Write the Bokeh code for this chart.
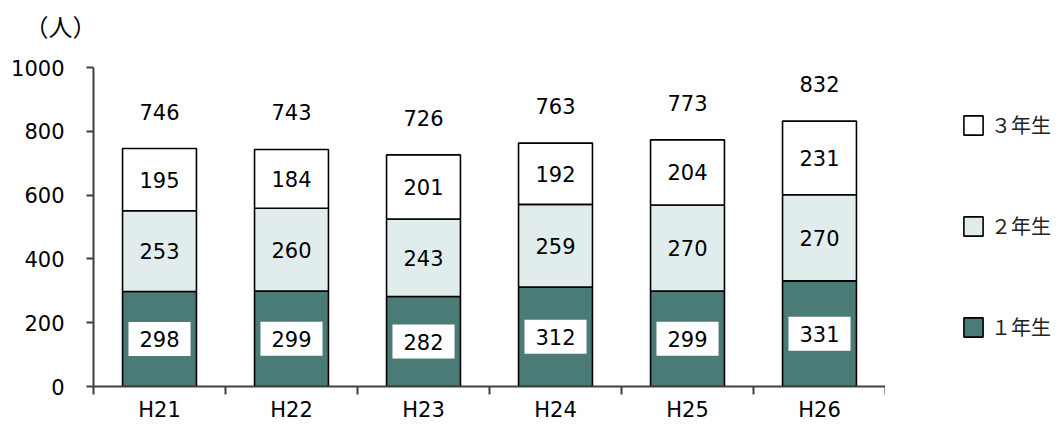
from bokeh.plotting import figure
from bokeh.layouts import row, column
from bokeh.models import (ColumnDataSource, FixedTicker, Range1d, Legend, LegendItem,
                          LabelSet)
from bokeh.core.properties import value
from bokeh.embed import file_html
from bokeh.resources import INLINE

# ---- data ----
years = ["H21", "H22", "H23", "H24", "H25", "H26"]
grade1 = [298, 299, 282, 312, 299, 331]
grade2 = [253, 260, 243, 259, 270, 270]
grade3 = [195, 184, 201, 192, 204, 231]
series_names = ["１年生", "２年生", "３年生"]
y_ticks = [0, 200, 400, 600, 800, 1000]
unit_label = "（人）"

# ---- derived ----
xs = [i + 0.5 for i in range(len(years))]
b1 = [0] * len(years)
t1 = grade1
b2 = t1
t2 = [a + b for a, b in zip(t1, grade2)]
b3 = t2
t3 = [a + b for a, b in zip(t2, grade3)]
totals = t3

src = ColumnDataSource(dict(
    x=xs, b1=b1, t1=t1, b2=b2, t2=t2, b3=b3, t3=t3,
    m1=[(a + b) / 2 for a, b in zip(b1, t1)],
    m2=[(a + b) / 2 for a, b in zip(b2, t2)],
    m3=[(a + b) / 2 for a, b in zip(b3, t3)],
    l1=[str(v) for v in grade1], l2=[str(v) for v in grade2], l3=[str(v) for v in grade3],
    tot=totals, ltot=[str(v) for v in totals],
))

NUM_FONT = "DejaVu Sans"
JP_FONT = "Noto Sans CJK JP"
AXIS_COLOR = "#404040"
colors = ["#4a7b77", "#e1eded", "#ffffff"]
bw = 0.56
HEAD_H = 50


def bare(fig):
    fig.outline_line_color = None
    fig.xgrid.visible = False
    fig.ygrid.visible = False
    return fig


# ---- header with unit label ----
head = figure(width=1059, height=HEAD_H, output_backend="svg", toolbar_location=None,
              x_range=Range1d(0, 1059), y_range=Range1d(0, HEAD_H),
              min_border=0, x_axis_location=None, y_axis_location=None)
bare(head)
head.text(x=[24], y=[HEAD_H - 25], text=[unit_label], text_font=value(JP_FONT),
          text_font_size="24px", text_align="left", text_baseline="middle", text_color="black")

# ---- main chart ----
p = figure(width=885, height=425 - HEAD_H, output_backend="svg", toolbar_location=None,
           x_range=Range1d(0, len(years)), y_range=Range1d(0, 1000),
           min_border_left=93, min_border_right=0, min_border_top=67 - HEAD_H,
           min_border_bottom=39)
bare(p)

r1 = p.vbar(x="x", bottom="b1", top="t1", width=bw, source=src, fill_color=colors[0],
            line_color="black", line_width=1.6)
r2 = p.vbar(x="x", bottom="b2", top="t2", width=bw, source=src, fill_color=colors[1],
            line_color="black", line_width=1.6)
r3 = p.vbar(x="x", bottom="b3", top="t3", width=bw, source=src, fill_color=colors[2],
            line_color="black", line_width=1.6)

p.text(x="x", y="m1", text="l1", source=src, text_font=value(NUM_FONT), text_font_size="21px",
       text_align="center", text_baseline="middle", text_color="black",
       background_fill_color="white", padding=(11, 9))
p.text(x="x", y="m2", text="l2", source=src, text_font=value(NUM_FONT), text_font_size="21px",
       text_align="center", text_baseline="middle", text_color="black")
p.text(x="x", y="m3", text="l3", source=src, text_font=value(NUM_FONT), text_font_size="21px",
       text_align="center", text_baseline="middle", text_color="black")

p.add_layout(LabelSet(x="x", y="tot", text="ltot", source=src, y_offset=37,
                      text_font=value(NUM_FONT), text_font_size="21px",
                      text_align="center", text_baseline="middle", text_color="black"))

xa = p.xaxis[0]
xa.ticker = FixedTicker(ticks=xs, minor_ticks=list(range(len(years) + 1)))
xa.major_label_overrides = {x: y for x, y in zip(xs, years)}
xa.major_tick_line_color = None
xa.major_tick_out = 0
xa.major_tick_in = 0
xa.minor_tick_out = 8
xa.minor_tick_in = 0
xa.minor_tick_line_color = AXIS_COLOR
xa.minor_tick_line_width = 2
xa.axis_line_color = AXIS_COLOR
xa.axis_line_width = 2
xa.major_label_standoff = 3
xa.major_label_text_font = NUM_FONT
xa.major_label_text_font_size = "21px"
xa.major_label_text_color = "black"

ya = p.yaxis[0]
ya.ticker = FixedTicker(ticks=y_ticks)
ya.minor_tick_line_color = None
ya.major_tick_out = 7
ya.major_tick_in = 0
ya.major_tick_line_color = AXIS_COLOR
ya.major_tick_line_width = 2
ya.axis_line_color = AXIS_COLOR
ya.axis_line_width = 2
ya.major_label_standoff = 22
ya.major_label_text_font = NUM_FONT
ya.major_label_text_font_size = "21px"
ya.major_label_text_color = "black"

# ---- legend panel (hidden proxy bars supply the legend swatches) ----
lf = figure(width=174, height=425 - HEAD_H, output_backend="svg", toolbar_location=None,
            x_range=Range1d(-10, -9), y_range=Range1d(0, 1000), min_border=0,
            x_axis_location=None, y_axis_location=None)
bare(lf)
q1 = lf.vbar(x="x", bottom="b1", top="t1", width=bw, source=src, fill_color=colors[0],
             line_color="black", line_width=1.6, visible=False)
q2 = lf.vbar(x="x", bottom="b2", top="t2", width=bw, source=src, fill_color=colors[1],
             line_color="black", line_width=1.6, visible=False)
q3 = lf.vbar(x="x", bottom="b3", top="t3", width=bw, source=src, fill_color=colors[2],
             line_color="black", line_width=1.6, visible=False)
legend = Legend(items=[LegendItem(label=series_names[2], renderers=[q3]),
                       LegendItem(label=series_names[1], renderers=[q2]),
                       LegendItem(label=series_names[0], renderers=[q1])],
                location=(76, 45), orientation="vertical",
                glyph_width=24, glyph_height=24, spacing=72, padding=0, margin=0,
                label_standoff=6, label_text_font=JP_FONT,
                label_text_font_size="20px", label_text_color="#222222",
                label_height=24, border_line_color=None, background_fill_alpha=0,
                inactive_fill_alpha=0)
lf.add_layout(legend, "center")

layout = column(head, row(p, lf))
open("out.html", "w").write(file_html(layout, INLINE))
